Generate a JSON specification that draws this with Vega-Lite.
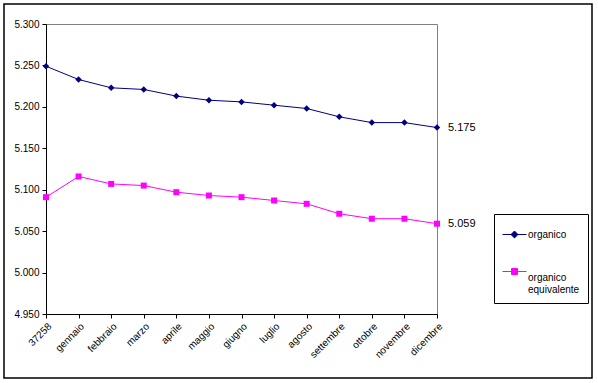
{
  "$schema": "https://vega.github.io/schema/vega-lite/v6.json",
  "autosize": "none",
  "width": 391,
  "height": 290,
  "padding": {"left": 46, "top": 24, "right": 161, "bottom": 69},
  "background": "white",
  "config": {
    "font": "Liberation Sans",
    "view": {"stroke": "#808080", "strokeWidth": 1},
    "axis": {"labelFont": "Liberation Sans", "labelFontSize": 10, "labelColor": "black", "domainColor": "black", "tickColor": "black", "tickSize": 4, "grid": false, "title": null}
  },
  "data": {
    "values": [
      {"mese": "37258", "series": "organico", "valore": 5.249},
      {"mese": "gennaio", "series": "organico", "valore": 5.233},
      {"mese": "febbraio", "series": "organico", "valore": 5.223},
      {"mese": "marzo", "series": "organico", "valore": 5.221},
      {"mese": "aprile", "series": "organico", "valore": 5.213},
      {"mese": "maggio", "series": "organico", "valore": 5.208},
      {"mese": "giugno", "series": "organico", "valore": 5.206},
      {"mese": "luglio", "series": "organico", "valore": 5.202},
      {"mese": "agosto", "series": "organico", "valore": 5.198},
      {"mese": "settembre", "series": "organico", "valore": 5.188},
      {"mese": "ottobre", "series": "organico", "valore": 5.181},
      {"mese": "novembre", "series": "organico", "valore": 5.181},
      {"mese": "dicembre", "series": "organico", "valore": 5.175},
      {"mese": "37258", "series": "organico equivalente", "valore": 5.091},
      {"mese": "gennaio", "series": "organico equivalente", "valore": 5.116},
      {"mese": "febbraio", "series": "organico equivalente", "valore": 5.107},
      {"mese": "marzo", "series": "organico equivalente", "valore": 5.105},
      {"mese": "aprile", "series": "organico equivalente", "valore": 5.097},
      {"mese": "maggio", "series": "organico equivalente", "valore": 5.093},
      {"mese": "giugno", "series": "organico equivalente", "valore": 5.091},
      {"mese": "luglio", "series": "organico equivalente", "valore": 5.087},
      {"mese": "agosto", "series": "organico equivalente", "valore": 5.083},
      {"mese": "settembre", "series": "organico equivalente", "valore": 5.071},
      {"mese": "ottobre", "series": "organico equivalente", "valore": 5.065},
      {"mese": "novembre", "series": "organico equivalente", "valore": 5.065},
      {"mese": "dicembre", "series": "organico equivalente", "valore": 5.059}
    ]
  },
  "encoding": {
    "x": {
      "field": "mese", "type": "ordinal",
      "sort": ["37258","gennaio","febbraio","marzo","aprile","maggio","giugno","luglio","agosto","settembre","ottobre","novembre","dicembre"],
      "scale": {"type": "point", "padding": 0},
      "axis": {"labelAngle": -45, "labelPadding": 3}
    },
    "y": {
      "field": "valore", "type": "quantitative",
      "scale": {"domain": [4.95, 5.3], "zero": false, "nice": false},
      "axis": {"values": [4.95, 5.0, 5.05, 5.1, 5.15, 5.2, 5.25, 5.3], "format": ".3f", "labelPadding": 3}
    }
  },
  "layer": [
    {
      "data": {"values": [{"frame": 1}]},
      "mark": {"type": "rect", "fill": null, "stroke": "black", "strokeWidth": 1.5},
      "encoding": {
        "x": {"value": -42}, "x2": {"value": 546},
        "y": {"value": -20}, "y2": {"value": 354}
      }
    },
    {
      "mark": {"type": "line", "strokeWidth": 1},
      "encoding": {
        "color": {
          "field": "series", "type": "nominal",
          "scale": {"domain": ["organico", "organico equivalente"], "range": ["#000080", "#FF00FF"]},
          "legend": {
            "title": null,
            "orient": "none",
            "legendX": 448,
            "legendY": 190,
            "strokeColor": "black",
            "fillColor": "white",
            "padding": 8,
            "rowPadding": 19,
            "symbolSize": 576,
            "symbolStrokeWidth": 1,
            "labelFontSize": 10,
            "labelFont": "Liberation Sans",
            "labelColor": "black",
            "labelOffset": 1,
            "labelLimit": 200,
            "labelExpr": "datum.label == 'organico equivalente' ? ['organico', 'equivalente'] : datum.label",
            "encode": {
              "symbols": {
                "update": {
                  "shape": {"signal": "datum.value == 'organico' ? 'M-1,0H1M-0.29,0L0,-0.29L0.29,0L0,0.29Z' : 'M-1,0H1M-0.25,-0.25H0.25V0.25H-0.25Z'"},
                  "fill": {"scale": "color", "field": "value"},
                  "stroke": {"scale": "color", "field": "value"},
                  "strokeWidth": {"value": 1},
                  "opacity": {"value": 1}
                }
              },
              "labels": {
                "update": {
                  "dy": {"signal": "datum.value == 'organico equivalente' ? 6 : 0"}
                }
              }
            }
          }
        }
      }
    },
    {
      "transform": [{"filter": "datum.series == 'organico'"}],
      "mark": {"type": "point", "filled": true, "opacity": 1, "shape": "diamond", "color": "#000080", "size": 42}
    },
    {
      "transform": [{"filter": "datum.series == 'organico equivalente'"}],
      "mark": {"type": "point", "filled": true, "opacity": 1, "shape": "square", "color": "#FF00FF", "size": 36}
    },
    {
      "transform": [{"filter": "datum.mese == 'dicembre'"}],
      "mark": {"type": "text", "align": "left", "baseline": "middle", "dx": 11, "fontSize": 11, "font": "Liberation Sans", "color": "black"},
      "encoding": {
        "text": {"field": "valore", "type": "quantitative", "format": ".3f"}
      }
    }
  ]
}
